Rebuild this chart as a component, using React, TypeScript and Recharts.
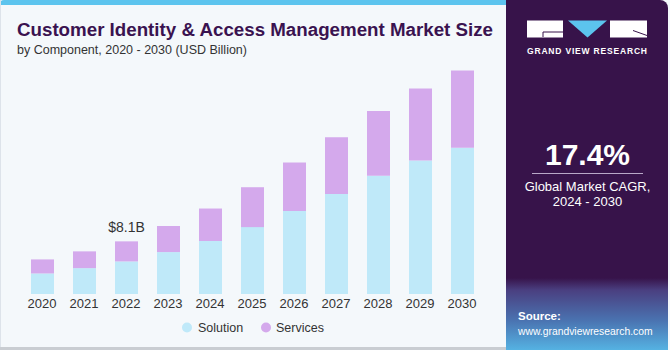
import { Bar, BarChart, XAxis, YAxis, LabelList } from "recharts";

const years = ["2020", "2021", "2022", "2023", "2024", "2025", "2026", "2027", "2028", "2029", "2030"];
const solution = [3.16, 3.98, 5.01, 6.45, 8.15, 10.29, 12.78, 15.4, 18.18, 20.55, 22.5];
const services = [2.16, 2.58, 3.09, 4.01, 5.0, 6.14, 7.46, 8.7, 9.98, 11.05, 11.88];
const seriesNames = ["Solution", "Services"];
const seriesColors = ["#bfe9f9", "#d4a9ec"];
const labelIndex = 2;
const labelText = "$8.1B";

const data = years.map((year, i) => ({
  year,
  solution: solution[i],
  services: services[i],
}));

const font = "'Liberation Sans', Arial, sans-serif";

function TopLabel(props: any) {
  const { x, y, width, index } = props;
  if (index !== labelIndex) return null;
  return (
    <text x={x + width / 2} y={y - 9} textAnchor="middle" fontSize={14} fill="#333" fontFamily={font}>
      {labelText}
    </text>
  );
}

export default function App() {
  return (
    <div style={{ position: "fixed", left: 0, top: 0, width: 670, height: 350, background: "#f4f8fb", overflow: "hidden" }}>
      <style>{`body{margin:0}`}</style>
      {/* frame */}
      <div style={{ position: "absolute", left: 0, top: 0, width: 506, height: 5, background: "#5cc4ee", borderTopLeftRadius: 4 }} />
      <div style={{ position: "absolute", left: 0, top: 0, width: 1, height: 350, background: "#dde3ea" }} />
      <div style={{ position: "absolute", left: 0, top: 347, width: 506, height: 3, background: "#c9cdd2" }} />
      {/* side panel */}
      <div
        style={{
          position: "absolute",
          left: 506,
          top: 0,
          width: 162,
          height: 350,
          borderTopRightRadius: 8,
          background: "linear-gradient(to bottom, #37134a 0px, #37134a 278px, #4a3f80 290px, #4a72b0 320px, #55b2e2 350px)",
        }}
      />
      <div style={{ position: "absolute", left: 0, top: 0 }}>
        <BarChart width={670} height={350} data={data} margin={{ top: 60, right: 187, bottom: 26, left: 21 }}>
          <XAxis
            dataKey="year"
            axisLine={false}
            tickLine={false}
            tickSize={3}
            tickMargin={2}
            interval={0}
            tick={{ fontSize: 13, fill: "#333", fontFamily: font }}
          />
          <YAxis hide domain={[0, 36]} />
          <Bar dataKey="solution" stackId="a" fill={seriesColors[0]} barSize={23} isAnimationActive={false} />
          <Bar dataKey="services" stackId="a" fill={seriesColors[1]} barSize={23} isAnimationActive={false}>
            <LabelList dataKey="services" content={<TopLabel />} />
          </Bar>
        </BarChart>
      </div>
      <svg width={670} height={350} style={{ position: "absolute", left: 0, top: 0 }} fontFamily={font}>
        <text x={17} y={35.5} fontSize={17.5} fontWeight="bold" fill="#3a1350" textLength={476} lengthAdjust="spacingAndGlyphs">
          Customer Identity &amp; Access Management Market Size
        </text>
        <text x={17} y={54} fontSize={12.5} fill="#333">
          by Component, 2020 - 2030 (USD Billion)
        </text>
        {/* legend */}
        <circle cx={187} cy={327.5} r={5} fill={seriesColors[0]} />
        <text x={198} y={331.8} fontSize={12.5} fill="#333">{seriesNames[0]}</text>
        <circle cx={266} cy={327.5} r={5} fill={seriesColors[1]} />
        <text x={276} y={331.8} fontSize={12.5} fill="#333">{seriesNames[1]}</text>
        {/* logo */}
        <rect x={527} y={20.5} width={36} height={17} fill="#fff" />
        <path d="M543 37 L543 32 L563 32" stroke="#37134a" strokeWidth={1} fill="none" />
        <polygon points="568,20.5 607,20.5 587.5,37.5" fill="#5cc4ee" />
        <rect x={610} y={20.5} width={37} height={17} fill="#fff" />
        <line x1={633} y1={30.5} x2={647} y2={35.5} stroke="#37134a" strokeWidth={1} />
        <text x={587} y={54} fontSize={8.5} fontWeight="bold" fill="#fff" textAnchor="middle" textLength={120} lengthAdjust="spacing">
          GRAND VIEW RESEARCH
        </text>
        {/* CAGR */}
        <text x={587.5} y={165} fontSize={30} fontWeight="bold" fill="#fff" textAnchor="middle">
          17.4%
        </text>
        <line x1={532} y1={173.5} x2={643} y2={173.5} stroke="#b9a8c8" strokeWidth={1.2} />
        <text x={587.5} y={190.5} fontSize={13} fill="#fff" textAnchor="middle">
          Global Market CAGR,
        </text>
        <text x={587.5} y={206} fontSize={13} fill="#fff" textAnchor="middle">
          2024 - 2030
        </text>
        {/* source */}
        <text x={518} y={319.5} fontSize={11.5} fontWeight="bold" fill="#fff">
          Source:
        </text>
        <text transform="translate(518,335) scale(0.9,1)" x={0} y={0} fontSize={11.5} fill="#fff">
          www.grandviewresearch.com
        </text>
      </svg>
    </div>
  );
}
